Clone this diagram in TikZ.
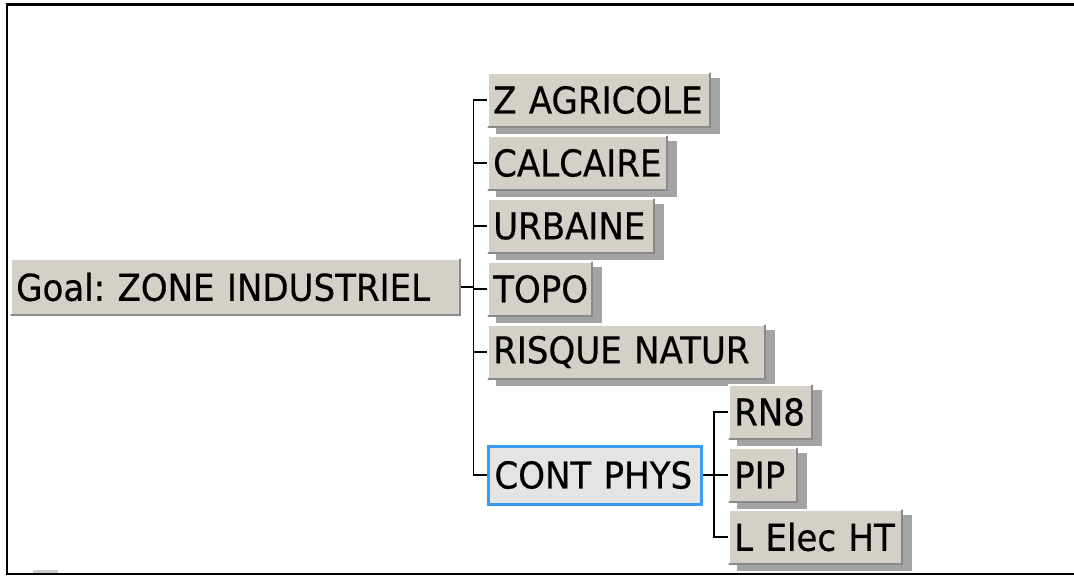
\documentclass[tikz,border=0pt]{standalone}
\usepackage{fontspec}
\setmainfont{DejaVu Sans}[FakeStretch=0.92,FakeBold=0.5]
\usetikzlibrary{shadows}
\hyphenpenalty=10000
\frenchspacing
\definecolor{boxgray}{HTML}{D4D0C8}
\definecolor{shadgray}{HTML}{A3A3A3}
\definecolor{selgray}{HTML}{E4E4E4}
\definecolor{selblue}{HTML}{3A9BF0}
\definecolor{edgegray}{HTML}{8A8A8A}
\tikzset{
  bevel/.style={path picture={
    \draw[white,line width=2pt] ([xshift=1pt,yshift=1pt]path picture bounding box.south west) |- ([xshift=-1pt,yshift=-1pt]path picture bounding box.north east);
    \draw[edgegray,line width=2pt] ([xshift=1pt,yshift=1pt]path picture bounding box.south west) -| ([xshift=-1pt,yshift=-1pt]path picture bounding box.north east);
  }},
  nbox/.style={fill=boxgray, inner xsep=6pt, inner ysep=0pt, minimum height=56pt,
    anchor=west, align=left, font=\fontsize{37}{40}\selectfont, bevel},
  leaf/.style={nbox, drop shadow={shadow xshift=9pt, shadow yshift=-6pt, fill=shadgray, opacity=1}},
  conn/.style={draw=black, line width=1.3pt}
}
\begin{document}
\begin{tikzpicture}[x=1pt,y=-1pt]
\useasboundingbox (0,0) rectangle (1074,577);
\fill[white] (0,0) rectangle (1074,577);
% frame
\draw[black,line width=2.4pt] (7,574) |- (1074,4.5);
\draw[black,line width=2.4pt] (6,574) -- (1074,574);
\fill[gray!40] (33,570) rectangle (58,573);
% nodes
\node[nbox, text width=439pt, minimum height=58pt, inner xsep=6pt] (goal) at (10,287) {Goal: ZONE INDUSTRIEL};
\node[leaf, text width=212pt] (zag) at (487,100) {Z AGRICOLE};
\node[leaf, text width=169pt] (cal) at (487,163) {CALCAIRE};
\node[leaf, text width=156pt] (urb) at (487,226) {URBAINE};
\node[leaf, text width=94pt] (topo) at (487,289) {TOPO};
\node[leaf, text width=267pt] (risk) at (487,352) {RISQUE NATUR};
\node[nbox, fill=selgray, path picture={}, draw=selblue, line width=3pt, text width=201pt, minimum height=58pt] (cont) at (487,475) {CONT PHYS};
\node[leaf, text width=73pt] (rn8) at (728,412) {RN8};
\node[leaf, text width=58pt] (pip) at (728,475) {PIP};
\node[leaf, text width=163pt] (lel) at (728,537) {L Elec HT};
% connectors
\coordinate (j1) at ([xshift=12pt]goal.east);
\draw[conn] (goal.east) -- (j1);
\foreach \c in {zag,cal,urb,topo,risk,cont} \draw[conn] (j1) |- (\c.west);
\coordinate (j2) at ([xshift=11pt]cont.east);
\draw[conn] (cont.east) -- (j2);
\foreach \c in {rn8,pip,lel} \draw[conn] (j2) |- (\c.west);
\end{tikzpicture}
\end{document}
